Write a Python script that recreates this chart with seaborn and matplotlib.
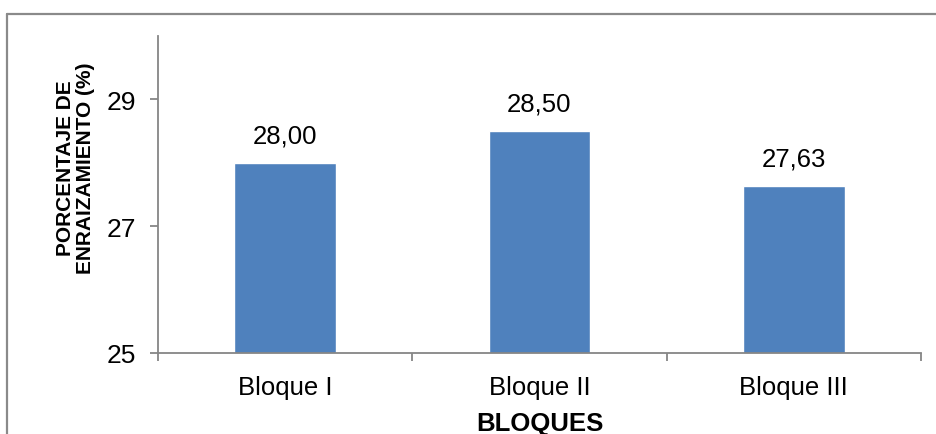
import matplotlib
matplotlib.use("Agg")
import matplotlib.pyplot as plt
from matplotlib.lines import Line2D
from matplotlib.ticker import FixedLocator
import pandas as pd
import seaborn as sns

# Rooting percentage per block
bloques = ["Bloque I", "Bloque II", "Bloque III"]
porcentaje = [28.00, 28.50, 27.63]
y_ticks = [25, 27, 29]

df = pd.DataFrame({"bloque": bloques, "porcentaje": porcentaje})

sns.set_theme(style="white")
plt.rcParams["font.family"] = ["Liberation Sans", "DejaVu Sans"]

W, H = 937, 435
fig = plt.figure(figsize=(W / 100, H / 100), dpi=100)
ax = fig.add_axes([158 / W, 1 - 354 / H, (921 - 158) / W, (354 - 37) / H])

sns.barplot(data=df, x="bloque", y="porcentaje", color="#4F81BD",
            saturation=1, width=0.4, ax=ax)

ax.set_ylim(25, 30)
ax.set_xlim(-0.5, len(bloques) - 0.5)
ax.set_yticks(y_ticks)

grey = "#868686"
for side in ("top", "right"):
    ax.spines[side].set_visible(False)
for side in ("left", "bottom"):
    ax.spines[side].set_color(grey)
    ax.spines[side].set_linewidth(1.3)

# category labels centred, tick marks at category boundaries
ax.xaxis.set_minor_locator(FixedLocator([i - 0.5 for i in range(len(bloques) + 1)]))
ax.tick_params(axis="x", which="major", length=0, pad=16, labelsize=18.5, labelcolor="black")
ax.tick_params(axis="x", which="minor", length=6, width=1.3, color=grey, direction="out", bottom=True)
ax.tick_params(axis="y", which="major", length=6, width=1.3, color=grey, direction="out",
               pad=10, labelsize=19, labelcolor="black", left=True)

labels = [f"{v:.2f}".replace(".", ",") for v in porcentaje]
ax.bar_label(ax.containers[0], labels=labels, padding=11, fontsize=18.5, color="black")

ax.set_xlabel("BLOQUES", fontsize=18.5, fontweight="bold", color="black")
ax.xaxis.set_label_coords(0.5, -0.184)
ax.set_ylabel("PORCENTAJE DE\nENRAIZAMIENTO (%)", fontsize=15, fontweight="bold",
              color="black", linespacing=1.05)
ax.yaxis.set_label_coords(-0.083, 0.585)

# outer chart-area frame
fx0, fy0 = 7.5 / W, 1 - 14.5 / H
fig.add_artist(Line2D([fx0, 1.01], [fy0, fy0], transform=fig.transFigure, color="#8a8a8a", lw=1.6))
fig.add_artist(Line2D([fx0, fx0], [fy0, -0.01], transform=fig.transFigure, color="#8a8a8a", lw=1.6))

fig.savefig("out.png", dpi=100, facecolor="white")
